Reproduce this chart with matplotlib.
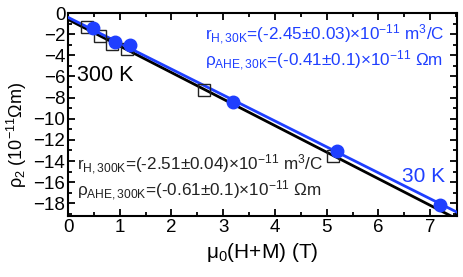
import matplotlib
matplotlib.use('Agg')
import matplotlib.pyplot as plt
import numpy as np
from matplotlib.ticker import MultipleLocator

plt.rcParams['font.family'] = ['Liberation Sans', 'DejaVu Sans']
plt.rcParams['mathtext.fontset'] = 'custom'
plt.rcParams['mathtext.rm'] = 'Liberation Sans'
plt.rcParams['mathtext.it'] = 'Liberation Sans'

# 30 K data (filled circles)
b30 = [0.48, 0.91, 1.2, 3.19, 5.2, 7.2]
rho30 = [-1.4, -2.7, -3.0, -8.4, -13.05, -18.15]
# 300 K data (open squares)
b300 = [0.37, 0.62, 0.85, 1.14, 2.63, 5.13]
rho300 = [-1.3, -2.2, -2.9, -3.4, -7.3, -13.5]

# linear fits
slope30, icpt30 = -2.45, -0.41
slope300, icpt300 = -2.51, -0.61

blue = '#1f3fff'

fig = plt.figure(figsize=(4.63, 2.77), dpi=100)
ax = fig.add_axes([0.147, 0.22, 0.84, 0.733])

xx = np.array([0, 7.6])
ax.plot(xx, icpt300 + slope300 * xx, color='black', lw=2, zorder=2)
ax.plot(xx, icpt30 + slope30 * xx, color=blue, lw=2, zorder=3)
ax.plot(b300, rho300, 's', mfc='none', mec='#222222', ms=8, mew=1, zorder=4)
ax.plot(b30, rho30, 'o', color=blue, ms=9, zorder=5)

ax.set_xlim(0, 7.52)
ax.set_ylim(-19.2, 0)
ax.xaxis.set_major_locator(MultipleLocator(1))
ax.xaxis.set_minor_locator(MultipleLocator(0.5))
ax.yaxis.set_major_locator(MultipleLocator(2))
ax.yaxis.set_minor_locator(MultipleLocator(1))
ax.tick_params(which='both', direction='in', top=True, right=True,
               labelsize=13.5, width=1.3, pad=2)
ax.tick_params(which='major', length=5)
ax.tick_params(which='minor', length=3)
ax.set_xticks(np.arange(0, 8, 1))
ax.set_yticks(np.arange(-18, 1, 2))
for s in ax.spines.values():
    s.set_linewidth(1.5)

ax.set_xlabel(r'$\mathregular{\mu_0}$(H+M) (T)', fontsize=15, labelpad=4)
ax.set_ylabel(r'$\mathregular{\rho_2}$ (10$^{\mathregular{-11}}$$\mathregular{\Omega}$m)',
              fontsize=13)
ax.yaxis.set_label_coords(-0.10, 0.40)

ax.text(0.17, -5.9, '300 K', fontsize=15.5, color='black', va='center')
ax.text(6.46, -15.5, '30 K', fontsize=15, color=blue, va='center')

ax.text(2.65, -2.1,
        r'r$_{\mathregular{H,30K}}$=(-2.45$\pm$0.03)$\times$10$^{\mathregular{-11}}$ m$^{\mathregular{3}}$/C',
        fontsize=12.3, color=blue, va='center')
ax.text(2.65, -4.5,
        r'$\mathregular{\rho}_{\mathregular{AHE,30K}}$=(-0.41$\pm$0.1)$\times$10$^{\mathregular{-11}}$ $\mathregular{\Omega}$m',
        fontsize=12.3, color=blue, va='center')
ax.text(0.17, -14.4,
        r'r$_{\mathregular{H,300K}}$=(-2.51$\pm$0.04)$\times$10$^{\mathregular{-11}}$ m$^{\mathregular{3}}$/C',
        fontsize=12.3, color='#222222', va='center')
ax.text(0.17, -16.8,
        r'$\mathregular{\rho}_{\mathregular{AHE,300K}}$=(-0.61$\pm$0.1)$\times$10$^{\mathregular{-11}}$ $\mathregular{\Omega}$m',
        fontsize=12.3, color='#222222', va='center')

fig.savefig('out.png', dpi=100)
